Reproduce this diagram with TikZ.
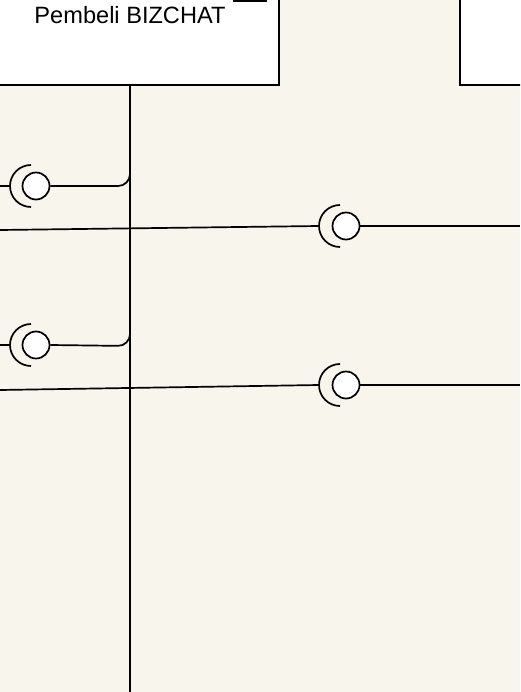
\documentclass[tikz,border=0pt]{standalone}
\usepackage{fontspec}
\setmainfont{Liberation Sans}
\usepackage{tikz}
\usetikzlibrary{positioning}
\definecolor{canvas}{HTML}{F8F5EC}

\begin{document}
\begin{tikzpicture}[x=1pt,y=-1pt,
        wire/.style={line width=1.7pt},
        comp/.style={draw, fill=white, line width=1.7pt},
        ball/.style={circle, draw, fill=white, line width=1.7pt, minimum size=27pt, inner sep=0pt}]
        \fill[canvas] (0,0) rectangle (520,692);
        \useasboundingbox (0,0) rectangle (520,692);
        \clip (0,0) rectangle (520,692);

        % components
        \draw[comp] (-20,-30) rectangle (279,85);
        \draw[comp] (460,-30) rectangle (560,85);
        \draw[wire] (234,-14) rectangle (266,1);
        \node[anchor=base, inner sep=0pt, font=\fontsize{23.6}{28}\selectfont] (buyer) at (130,24) {Pembeli BIZCHAT};

        % lifeline
        \coordinate (life top) at (130,85);
        \coordinate (life end) at (130,692);
        \draw[wire] (life top) -- (life end);

        % provided interfaces on the left
        \node[ball] (b1) at (36,186) {};
        \node[ball] (b2) at (36,345) {};
        \draw[wire, rounded corners=12pt] (b1.east) -- (130,186) -- (130,160);
        \draw[wire, rounded corners=12pt] (b2.east) -- (130,346) -- (130,320);

        % sockets round them
        \coordinate (s1) at (31,186);
        \coordinate (s2) at (31,345);
        \draw[wire] (s1) ++(90:21) arc[start angle=90, end angle=270, radius=21];
        \draw[wire] (s2) ++(90:21) arc[start angle=90, end angle=270, radius=21];
        \coordinate (s1w) at (10,186);
        \coordinate (s2w) at (10,345);
        \coordinate (in1) at (0,186);
        \coordinate (in2) at (0,345);
        \draw[wire] (in1) -- (s1w);
        \draw[wire] (in2) -- (s2w);

        % interfaces on the right
        \node[ball] (b3) at (346,226) {};
        \node[ball] (b4) at (346,385) {};
        \coordinate (s3) at (340,226);
        \coordinate (s4) at (340,385);
        \draw[wire] (s3) ++(90:21) arc[start angle=90, end angle=270, radius=21];
        \draw[wire] (s4) ++(90:21) arc[start angle=90, end angle=270, radius=21];
        \coordinate (s3w) at (319,226);
        \coordinate (s4w) at (319,385);
        \coordinate (out3) at (520,226);
        \coordinate (out4) at (520,385);
        \coordinate (in3) at (0,230);
        \coordinate (in4) at (0,390);
        \draw[wire] (b3.east) -- (out3);
        \draw[wire] (b4.east) -- (out4);
        \draw[wire] (in3) -- (s3w);
        \draw[wire] (in4) -- (s4w);
\end{tikzpicture}
\end{document}
